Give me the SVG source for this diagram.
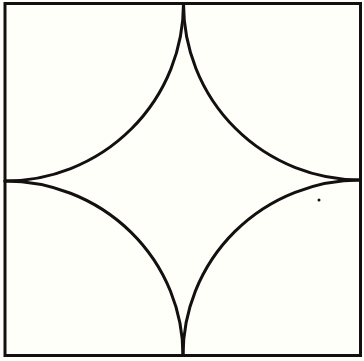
<svg xmlns="http://www.w3.org/2000/svg" width="364" height="361" viewBox="0 0 364 361">
<style>
.l{fill:none;stroke:#141012;stroke-width:3;stroke-linecap:round}
</style>
<rect x="0" y="0" width="364" height="361" fill="#fffffa"/>
<rect class="l" x="5" y="3.5" width="355.5" height="352"/>
<g id="arcs">
<path class="l" d="M183.5,3.5 A178.5,177.5 0 0 1 5,181"/>
<path class="l" d="M183.5,3.5 A177,176.5 0 0 0 360.5,180"/>
<path class="l" d="M5,181 A178,174.5 0 0 1 183,355.5"/>
<path class="l" d="M360.5,180 A177.5,175.5 0 0 0 183,355.5"/>
</g>
<circle cx="319" cy="200" r="1.5" fill="#141012"/>
</svg>
